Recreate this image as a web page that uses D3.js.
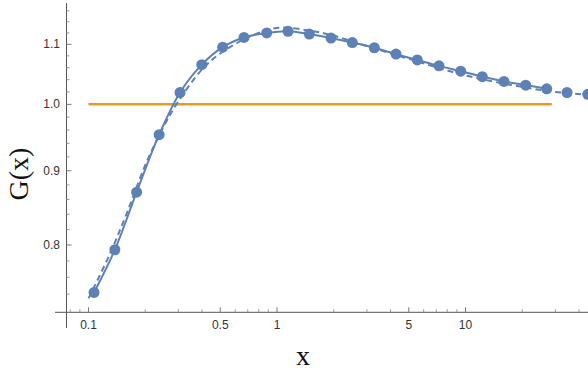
<!DOCTYPE html>
<html><head><meta charset="utf-8">
<script src="https://cdn.jsdelivr.net/npm/d3@7"></script>
<style>body{margin:0;background:#fff}svg{display:block}</style>
</head><body>
<svg id="c" width="588" height="373"></svg>
<script>
// ---- data ----
const xPoints = [0.107, 0.138, 0.180, 0.237, 0.306, 0.399, 0.515, 0.668, 0.882, 1.144, 1.484, 1.934, 2.509, 3.283, 4.279, 5.551, 7.235, 9.431, 12.28, 16.00, 20.86, 26.97, 34.56, 44.5];
const gPoints = [0.742, 0.794, 0.870, 0.953, 1.019, 1.065, 1.095, 1.112, 1.120, 1.123, 1.118, 1.111, 1.103, 1.094, 1.083, 1.073, 1.063, 1.054, 1.045, 1.037, 1.031, 1.025, 1.019, 1.016];
const solidCount = 22;
const xDashed = [0.1, 0.13, 0.16, 0.2, 0.25, 0.3, 0.4, 0.5, 0.7, 1.0, 1.5, 2, 3, 5, 10, 20, 30, 45];
const gDashed = [0.735, 0.789, 0.842, 0.908, 0.965, 1.005, 1.057, 1.084, 1.112, 1.129, 1.124, 1.115, 1.097, 1.075, 1.047, 1.028, 1.020, 1.015];
const xRef = [0.1, 28.7];
const gRef = [1.0, 1.0];
const xMajor = [0.1, 0.5, 1, 5, 10];
const xMajorLabels = ["0.1", "0.5", "1", "5", "10"];
const xMinor = [0.08, 0.09, 0.2, 0.3, 0.4, 0.6, 0.7, 0.8, 0.9, 2, 3, 4, 6, 7, 8, 9, 20, 30, 40];
const yMajor = [0.8, 0.9, 1.0, 1.1];
const yMajorLabels = ["0.8", "0.9", "1.0", "1.1"];
const yMinor = [0.74, 0.76, 0.78, 0.82, 0.84, 0.86, 0.88, 0.92, 0.94, 0.96, 0.98, 1.02, 1.04, 1.06, 1.08, 1.12, 1.14, 1.16];

// ---- scales ----
const x = d3.scaleLog().domain([0.1, 10]).range([88.5, 465.5]);
const y = d3.scaleLog().domain([0.8, 1.1]).range([245, 44.3]);
const svg = d3.select("#c");
const blue = "#5E81B5", orange = "#E19C24";
const axisX0 = 66.5, axisY0 = 312.3;

svg.append("defs").append("clipPath").attr("id","clip")
  .append("rect").attr("x", axisX0).attr("y", 0).attr("width", 588 - axisX0).attr("height", axisY0);

// ---- axes ----
const ax = svg.append("g");
ax.append("line").attr("x1", 55).attr("x2", 588).attr("y1", axisY0).attr("y2", axisY0).attr("stroke", "#555").attr("stroke-width", 1);
ax.append("line").attr("x1", axisX0).attr("x2", axisX0).attr("y1", 3).attr("y2", 328).attr("stroke", "#555").attr("stroke-width", 1);
ax.selectAll(".xmin").data(xMinor).join("line")
  .attr("x1", d => x(d)).attr("x2", d => x(d)).attr("y1", axisY0).attr("y2", axisY0 - 3).attr("stroke", "#999");
ax.selectAll(".xmaj").data(xMajor).join("line")
  .attr("x1", d => x(d)).attr("x2", d => x(d)).attr("y1", axisY0).attr("y2", axisY0 - 5).attr("stroke", "#777");
ax.selectAll(".xlab").data(xMajor).join("text")
  .attr("x", d => x(d)).attr("y", 329).attr("text-anchor", "middle")
  .attr("font-family", "Liberation Sans, Arial, sans-serif").attr("font-size", 12).attr("fill", "#333")
  .text((d, i) => xMajorLabels[i]);
ax.selectAll(".ymin").data(yMinor).join("line")
  .attr("x1", axisX0).attr("x2", axisX0 + 3).attr("y1", d => y(d)).attr("y2", d => y(d)).attr("stroke", "#999");
ax.selectAll(".ymaj").data(yMajor).join("line")
  .attr("x1", axisX0).attr("x2", axisX0 + 5).attr("y1", d => y(d)).attr("y2", d => y(d)).attr("stroke", "#777");
ax.selectAll(".ylab").data(yMajor).join("text")
  .attr("x", 60).attr("y", d => y(d) + 4).attr("text-anchor", "end")
  .attr("font-family", "Liberation Sans, Arial, sans-serif").attr("font-size", 12).attr("fill", "#333")
  .text((d, i) => yMajorLabels[i]);

// ---- axis titles ----
svg.append("text").attr("transform", "translate(28,174) rotate(-90)").attr("text-anchor", "middle")
  .attr("font-family", "Liberation Serif, Times New Roman, serif").attr("font-size", 28).attr("fill", "#111")
  .text("G(x)");
svg.append("text").attr("x", 303).attr("y", 365).attr("text-anchor", "middle")
  .attr("font-family", "Liberation Serif, Times New Roman, serif").attr("font-size", 28).attr("fill", "#111")
  .text("x");

// ---- marks ----
const plot = svg.append("g").attr("clip-path", "url(#clip)");
const ref = xRef.map((d, i) => [d, gRef[i]]);
plot.append("path").datum(ref).attr("fill", "none").attr("stroke", orange).attr("stroke-width", 2.5)
  .attr("d", d3.line().x(d => x(d[0])).y(d => y(d[1])));

const dashed = xDashed.map((d, i) => [d, gDashed[i]]);
plot.append("path").datum(dashed).attr("fill", "none").attr("stroke", blue).attr("stroke-width", 2)
  .attr("stroke-dasharray", "6,4")
  .attr("d", d3.line().curve(d3.curveCatmullRom).x(d => x(d[0])).y(d => y(d[1])));

const pts = xPoints.map((d, i) => [d, gPoints[i]]);
plot.append("path").datum(pts.slice(0, solidCount)).attr("fill", "none").attr("stroke", blue).attr("stroke-width", 2)
  .attr("d", d3.line().curve(d3.curveCatmullRom).x(d => x(d[0])).y(d => y(d[1])));

plot.selectAll(".pt").data(pts).join("circle")
  .attr("cx", d => x(d[0])).attr("cy", d => y(d[1])).attr("r", 5.5).attr("fill", blue);
</script>
</body></html>
